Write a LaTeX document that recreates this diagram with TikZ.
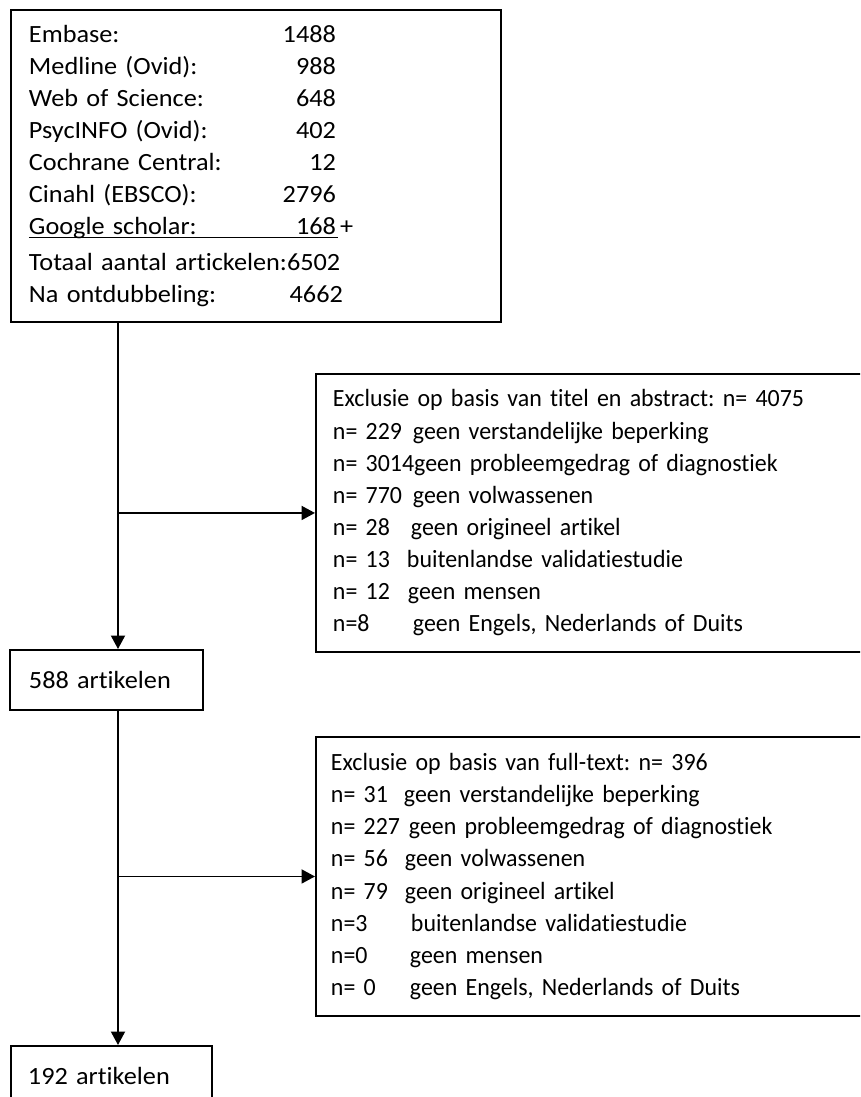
\documentclass[tikz,border=0pt]{standalone}
\usepackage{fontspec}
\setmainfont{Carlito}[FakeStretch=0.965, Ligatures=NoCommon]
\newfontfamily\bronfont{Carlito}[FakeStretch=1.06, Ligatures=NoCommon]
\usetikzlibrary{arrows.meta}

% regel in de bronnenlijst: naam links, aantal rechts
\newcommand\regel[3][6.14cm]{\makebox[#1][l]{#2\hfill#3}}
% regel met exclusiereden
\newcommand\rij[3][1.6cm]{\makebox[#1][l]{#2}#3}

\tikzset{
  kader/.style={draw, line width=1.1pt, rectangle, anchor=north west,
    align=left, inner xsep=0pt, inner ysep=0pt,
    font=\fontsize{14.1pt}{18.3pt}\selectfont\frenchspacing},
  pijl/.style={line width=1.1pt, -{Triangle[length=0.27cm,width=0.28cm]}}
}

\begin{document}
\begin{tikzpicture}

\useasboundingbox (0,0) rectangle (17.2,-21.94);
\clip (0,0) rectangle (17.2,-21.94);

% Zoekresultaten
\node[kader, minimum width=9.8cm, minimum height=6.24cm,
  text width=9.8cm] (bronnen) at (0.2,-0.18)
{\bronfont
\hspace*{0.36cm}\regel{Embase:}{1488}\\
\hspace*{0.36cm}\regel{Medline (Ovid):}{988}\\
\hspace*{0.36cm}\regel{Web of Science:}{648}\\
\hspace*{0.36cm}\regel{PsycINFO (Ovid):}{402}\\
\hspace*{0.36cm}\regel{Cochrane Central:}{12}\\
\hspace*{0.36cm}\regel{Cinahl (EBSCO):}{2796}\\
\hspace*{0.36cm}\rlap{\rule[-1.8pt]{6.18cm}{0.7pt}}\regel{Google scholar:}{168}\,+\\[2pt]
\hspace*{0.36cm}Totaal aantal artickelen:6502\\
\hspace*{0.36cm}\regel[6.28cm]{Na ontdubbeling:}{4662}};

% Eerste selectie
\node[kader, minimum width=11.4cm, minimum height=5.56cm,
  text width=11.4cm] (excl1) at (6.3,-7.46)
{\hspace*{0.34cm}Exclusie op basis van titel en abstract: n= 4075\\
\hspace*{0.34cm}\rij{n= 229}{geen verstandelijke beperking}\\
\hspace*{0.34cm}n= 3014geen probleemgedrag of diagnostiek\\
\hspace*{0.34cm}\rij{n= 770}{geen volwassenen}\\
\hspace*{0.34cm}\rij[1.56cm]{n= 28}{geen origineel artikel}\\
\hspace*{0.34cm}\rij[1.48cm]{n= 13}{buitenlandse validatiestudie}\\
\hspace*{0.34cm}\rij[1.5cm]{n= 12}{geen mensen}\\
\hspace*{0.34cm}\rij{n=8}{geen Engels, Nederlands of Duits}};

\node[kader, minimum width=3.86cm, minimum height=1.2cm,
  text width=3.86cm] (art588) at (0.18,-12.98)
{\bronfont\hspace*{0.38cm}588 artikelen};

% Tweede selectie
\node[kader, minimum width=11.4cm, minimum height=5.58cm,
  text width=11.4cm] (excl2) at (6.3,-14.72)
{\hspace*{0.3cm}Exclusie op basis van full-text: n= 396\\
\hspace*{0.3cm}\rij[1.46cm]{n= 31}{geen verstandelijke beperking}\\
\hspace*{0.3cm}\rij[1.56cm]{n= 227}{geen probleemgedrag of diagnostiek}\\
\hspace*{0.3cm}\rij[1.48cm]{n= 56}{geen volwassenen}\\
\hspace*{0.3cm}\rij[1.48cm]{n= 79}{geen origineel artikel}\\
\hspace*{0.3cm}\rij{n=3}{buitenlandse validatiestudie}\\
\hspace*{0.3cm}\rij[1.58cm]{n=0}{geen mensen}\\
\hspace*{0.3cm}\rij[1.58cm]{n= 0}{geen Engels, Nederlands of Duits}};

\node[kader, minimum width=4.02cm, minimum height=1.2cm,
  text width=4.02cm] (art192) at (0.2,-20.9)
{\bronfont\hspace*{0.34cm}192 artikelen};

% verbindingen
\coordinate (as) at (2.36,0);
\coordinate (tak1) at (as |- excl1.west);
\coordinate (tak2) at (as |- excl2.west);

\draw[pijl] (bronnen.south -| as) -- (art588.north -| as);
\draw[pijl] (tak1) -- (excl1.west);
\draw[pijl] (art588.south -| as) -- (art192.north -| as);
\draw[pijl] (tak2) -- (excl2.west);

\end{tikzpicture}
\end{document}
